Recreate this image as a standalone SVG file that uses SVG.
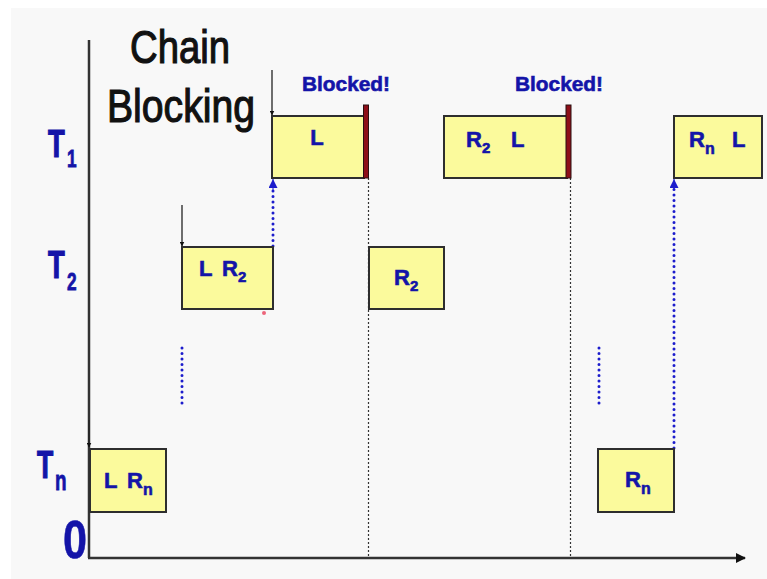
<svg xmlns="http://www.w3.org/2000/svg" width="767" height="579" viewBox="0 0 767 579">
  <defs>
    <style>
      .box { fill: #fbfa9c; stroke: #2e2e2e; stroke-width: 2; }
      .bar { fill: #8e0f18; stroke: #2a1010; stroke-width: 1; }
      .lbl { font-family: "Liberation Sans", "DejaVu Sans", sans-serif; font-weight: bold; fill: #1414a8; stroke: #1414a8; stroke-width: 0.6; }
      .task { font-size: 38px; stroke-width: 1.2; }
      .in { font-size: 22px; }
      .title { font-family: "Liberation Sans", "DejaVu Sans", sans-serif; font-size: 47px; fill: #111; stroke: #111; stroke-width: 1.2; }
      .axis { stroke: #333; stroke-width: 2.5; fill: none; }
      .rel { stroke: #222; stroke-width: 1.3; fill: none; }
      .guide { stroke: #333; stroke-width: 1.2; stroke-dasharray: 2 2; fill: none; }
      .chain { stroke: #1c1ccc; stroke-width: 3; stroke-dasharray: 0.1 5.4; stroke-linecap: round; fill: none; }
    </style>
    <marker id="ah" viewBox="0 0 10 10" refX="9" refY="5" markerWidth="4" markerHeight="4" orient="auto">
      <path d="M0,0 L10,5 L0,10 z" fill="#111"/>
    </marker>
    <marker id="small" viewBox="0 0 10 10" refX="9" refY="5" markerWidth="5" markerHeight="5" orient="auto" markerUnits="userSpaceOnUse">
      <path d="M0,0 L10,5 L0,10 z" fill="#111"/>
    </marker>
    <marker id="bh" viewBox="0 0 10 10" refX="10" refY="5" markerWidth="9" markerHeight="9" orient="auto" markerUnits="userSpaceOnUse">
      <path d="M0,0 L10,5 L0,10 z" fill="#1c1ccc"/>
    </marker>
  </defs>

  <!-- page -->
  <rect x="0" y="0" width="767" height="579" fill="#ffffff"/>
  <rect x="11" y="8" width="756" height="571" fill="#f8f8f8"/>

  <!-- title -->
  <g id="title">
    <text class="title" x="130" y="63" textLength="100" lengthAdjust="spacingAndGlyphs">Chain</text>
    <text class="title" x="107" y="122" textLength="148" lengthAdjust="spacingAndGlyphs">Blocking</text>
  </g>

  <!-- task labels (narrowed horizontally) -->
  <g id="label-t1">
    <text class="lbl task" transform="translate(48,157) scale(0.72,1)">T<tspan x="26.4" y="10" font-size="24" stroke-width="0.8">1</tspan></text>
  </g>
  <g id="label-t2">
    <text class="lbl task" transform="translate(48,278) scale(0.72,1)">T<tspan x="26.4" y="12" font-size="24" stroke-width="0.8">2</tspan></text>
  </g>
  <g id="label-tn">
    <text class="lbl task" transform="translate(37,478) scale(0.7,1)">T<tspan x="25.7" y="12" font-size="27" stroke-width="0.8">n</tspan></text>
  </g>
  <g id="label-zero">
    <text class="lbl" x="63" y="558" font-size="54" stroke-width="1.5" textLength="24" lengthAdjust="spacingAndGlyphs">0</text>
  </g>

  <!-- axes, guides and connectors -->
  <g id="connectors">
    <line class="axis" x1="89" y1="40" x2="89" y2="558"/>
    <line class="axis" x1="88" y1="558" x2="745" y2="558" marker-end="url(#ah)"/>
    <line class="guide" x1="368.5" y1="178" x2="368.5" y2="557"/>
    <line class="guide" x1="570.5" y1="178" x2="570.5" y2="557"/>
    <!-- release arrows -->
    <line class="rel" x1="272" y1="70" x2="272" y2="115" marker-end="url(#small)"/>
    <line class="rel" x1="182" y1="205" x2="182" y2="246" marker-end="url(#small)"/>
    <line class="rel" x1="89" y1="420" x2="89" y2="447" marker-end="url(#small)"/>
    <!-- chained blocking hand-offs -->
    <line class="chain" x1="273" y1="246" x2="273" y2="188"/>
    <line x1="273" y1="190" x2="273" y2="179" stroke="#1c1ccc" stroke-width="1" marker-end="url(#bh)"/>
    <line class="chain" x1="674" y1="448" x2="674" y2="188"/>
    <line x1="674" y1="190" x2="674" y2="179" stroke="#1c1ccc" stroke-width="1" marker-end="url(#bh)"/>
    <!-- intermediate tasks -->
    <line class="chain" x1="182" y1="348" x2="182" y2="408"/>
    <line class="chain" x1="599" y1="348" x2="599" y2="408"/>
  </g>

  <!-- T1 row -->
  <g id="t1-l">
    <rect class="box" x="272" y="116" width="92" height="62"/>
    <rect class="bar" x="363.5" y="105" width="5" height="73"/>
    <text class="lbl in" x="317" y="145" text-anchor="middle">L</text>
    <text class="lbl" x="302" y="91" font-size="21" textLength="88" lengthAdjust="spacingAndGlyphs">Blocked!</text>
  </g>
  <g id="t1-r2l">
    <rect class="box" x="444" y="116" width="123" height="62"/>
    <rect class="bar" x="566" y="105" width="5" height="73"/>
    <text class="lbl in" x="466" y="147">R<tspan font-size="15" dy="6">2</tspan><tspan x="511" y="147">L</tspan></text>
    <text class="lbl" x="515" y="91" font-size="21" textLength="88" lengthAdjust="spacingAndGlyphs">Blocked!</text>
  </g>
  <g id="t1-rnl">
    <rect class="box" x="674" y="116" width="88" height="62"/>
    <text class="lbl in" x="689" y="147">R<tspan font-size="16" dy="7">n</tspan><tspan x="732" y="147">L</tspan></text>
  </g>

  <!-- T2 row -->
  <g id="t2-lr2">
    <rect class="box" x="182" y="247" width="91" height="62"/>
    <text class="lbl in" x="199" y="276">L<tspan x="222">R</tspan><tspan font-size="15" dy="6">2</tspan></text>
  </g>
  <g id="t2-r2">
    <rect class="box" x="369" y="247" width="75" height="62"/>
    <text class="lbl in" x="394" y="285">R<tspan font-size="15" dy="6">2</tspan></text>
  </g>

  <!-- Tn row -->
  <g id="tn-lrn">
    <rect class="box" x="90" y="449" width="76" height="63"/>
    <text class="lbl in" x="104" y="488">L<tspan x="127">R</tspan><tspan font-size="16" dy="7">n</tspan></text>
  </g>
  <g id="tn-rn">
    <rect class="box" x="598" y="449" width="76" height="63"/>
    <text class="lbl in" x="625" y="487">R<tspan font-size="16" dy="7">n</tspan></text>
  </g>

  <!-- pointer mark -->
  <circle cx="264" cy="313" r="2" fill="#e8405a" opacity="0.8"/>
</svg>
